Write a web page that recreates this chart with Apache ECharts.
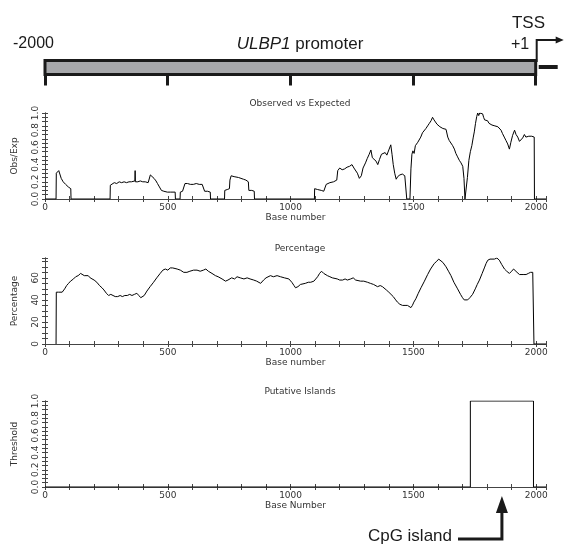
<!DOCTYPE html>
<html>
<head>
<meta charset="utf-8">
<title>ULBP1 promoter CpG</title>
<script src="https://cdn.jsdelivr.net/npm/echarts@6.0.0/dist/echarts.min.js"></script>
<style>
  html, body { margin: 0; padding: 0; background: #fff; }
  #chart { width: 568px; height: 548px; }
</style>
</head>
<body>
<div id="chart"></div>
<script>
// promoter diagram (base positions, -2000 .. +1)
const promoter = [[0, 2000]]
const xTicks = [0, 500, 1000, 1500, 2000]

// Observed vs Expected CpG ratio  [base, obs/exp]
const obsExp = [
  [0, 0], [45, 0], [46, 0.30], [50, 0.32], [56, 0.33], [62, 0.32], [66, 0.24], [74, 0.2], [84, 0.17], [95, 0.14], [105, 0.12], [106, 0],
  [265, 0], [266, 0.16], [272, 0.18], [282, 0.19], [292, 0.18], [302, 0.2], [312, 0.19], [322, 0.2], [332, 0.19], [342, 0.2],
  [352, 0.2], [360, 0.19], [366, 0.21], [367, 0.33], [368, 0.2], [378, 0.2], [388, 0.21], [398, 0.2], [408, 0.2], [420, 0.19],
  [428, 0.2], [429, 0.28], [436, 0.26], [444, 0.24], [452, 0.21], [458, 0.18], [466, 0.14], [474, 0.1], [484, 0.09], [498, 0.08],
  [512, 0.08], [530, 0.08], [531, 0],
  [550, 0], [551, 0.08], [560, 0.09], [568, 0.09], [570, 0.18], [580, 0.18], [592, 0.17], [604, 0.17], [616, 0.18], [628, 0.17],
  [640, 0.17], [648, 0.16], [650, 0.09], [662, 0.09], [673, 0.08], [674, 0],
  [731, 0], [732, 0.1], [742, 0.11], [751, 0.12], [753, 0.22], [758, 0.27], [762, 0.28], [770, 0.26], [778, 0.26], [788, 0.25],
  [798, 0.24], [808, 0.23], [818, 0.22], [828, 0.2], [830, 0.1], [842, 0.1], [852, 0.09], [853, 0],
  [1097, 0], [1098, 0.12], [1110, 0.11], [1125, 0.1], [1135, 0.09], [1145, 0.17], [1160, 0.19], [1175, 0.2], [1188, 0.22],
  [1192, 0.33], [1200, 0.36], [1210, 0.34], [1220, 0.35], [1230, 0.37], [1240, 0.38], [1250, 0.4], [1258, 0.36], [1265, 0.34],
  [1272, 0.3], [1280, 0.24], [1288, 0.27], [1295, 0.36], [1305, 0.42], [1312, 0.47], [1320, 0.52], [1327, 0.57], [1333, 0.48],
  [1340, 0.46], [1348, 0.44], [1355, 0.4], [1362, 0.46], [1370, 0.52], [1378, 0.5], [1385, 0.54], [1392, 0.51], [1400, 0.57],
  [1408, 0.63], [1413, 0.52], [1418, 0.4], [1424, 0.3], [1430, 0.23], [1436, 0.26], [1445, 0.28], [1455, 0.29], [1465, 0.27],
  [1472, 0.28], [1473, 0],
  [1486, 0], [1490, 0.35], [1494, 0.52], [1498, 0.56], [1503, 0.53], [1508, 0.62], [1513, 0.6], [1518, 0.66], [1524, 0.68],
  [1530, 0.72], [1537, 0.77], [1544, 0.76], [1551, 0.82], [1558, 0.85], [1565, 0.88], [1572, 0.91], [1578, 0.95], [1584, 0.92],
  [1590, 0.9], [1596, 0.87], [1602, 0.89], [1608, 0.84], [1614, 0.86], [1620, 0.82], [1627, 0.84], [1633, 0.81], [1640, 0.72],
  [1646, 0.68], [1653, 0.66], [1660, 0.62], [1667, 0.58], [1673, 0.53], [1680, 0.49], [1687, 0.45], [1694, 0.42], [1701, 0.38],
  [1706, 0.24], [1710, 0],
  [1716, 0], [1720, 0.25], [1726, 0.45], [1732, 0.55], [1738, 0.62], [1744, 0.72], [1748, 0.78], [1753, 0.88], [1758, 0.96],
  [1762, 1.0], [1766, 0.97], [1770, 1.0], [1774, 0.98], [1778, 1.0], [1782, 0.99], [1786, 0.95], [1790, 0.92], [1796, 0.9],
  [1802, 0.91], [1808, 0.88], [1814, 0.89], [1820, 0.86], [1826, 0.88], [1832, 0.85], [1838, 0.86], [1844, 0.84], [1850, 0.82],
  [1857, 0.8], [1863, 0.76], [1870, 0.72], [1877, 0.68], [1884, 0.64], [1891, 0.58], [1897, 0.66], [1904, 0.74], [1912, 0.8],
  [1918, 0.75], [1925, 0.72], [1932, 0.67], [1939, 0.65], [1945, 0.71], [1952, 0.75], [1958, 0.72], [1964, 0.74], [1970, 0.73],
  [1976, 0.75], [1982, 0.73], [1988, 0.74], [1992, 0.72], [1993, 0], [2040, 0]
]

// GC percentage  [base, %]
const gcPercent = [
  [45, 0], [46, 47], [55, 47], [62, 46], [70, 47], [80, 50], [88, 53], [96, 55], [104, 57], [116, 59], [125, 61], [135, 62],
  [145, 64], [152, 64], [160, 62], [168, 61], [176, 62], [184, 60], [192, 59], [200, 58], [211, 56], [222, 53], [232, 51],
  [240, 49], [250, 46], [259, 44], [268, 45], [277, 44], [286, 43], [296, 43], [306, 44], [315, 43], [325, 44], [335, 44],
  [345, 45], [354, 44], [364, 45], [374, 46], [382, 44], [390, 42], [396, 41], [404, 44], [415, 48], [428, 52], [442, 56],
  [455, 60], [469, 64], [480, 67], [490, 68], [500, 67], [510, 69], [520, 69], [528, 70], [538, 68], [551, 67], [565, 65],
  [578, 65], [590, 66], [605, 67], [619, 67], [632, 66], [645, 67], [655, 68], [665, 66], [680, 64], [694, 62], [705, 61],
  [721, 59], [735, 57], [745, 58], [760, 60], [772, 59], [782, 61], [795, 60], [810, 59], [823, 60], [835, 59], [850, 58],
  [862, 57], [878, 55], [890, 58], [900, 60], [918, 62], [930, 61], [945, 62], [959, 61], [975, 60], [993, 59], [1005, 56],
  [1014, 53], [1020, 51], [1030, 52], [1040, 54], [1047, 55], [1060, 55], [1072, 56], [1082, 56], [1095, 57], [1102, 58],
  [1110, 61], [1118, 64], [1126, 66], [1135, 64], [1143, 63], [1150, 62], [1160, 61], [1170, 60], [1177, 60], [1190, 59],
  [1200, 58], [1212, 58], [1222, 59], [1231, 58], [1245, 59], [1255, 60], [1265, 58], [1272, 59], [1285, 57], [1298, 57],
  [1313, 56], [1325, 55], [1338, 54], [1346, 53], [1354, 52], [1365, 53], [1374, 52], [1381, 51], [1390, 49], [1400, 47],
  [1408, 46], [1418, 43], [1428, 40], [1435, 38], [1445, 36], [1456, 35], [1466, 35], [1476, 35], [1484, 34], [1490, 33],
  [1496, 35], [1502, 38], [1510, 41], [1520, 46], [1531, 51], [1545, 57], [1558, 63], [1570, 68], [1585, 73], [1595, 75],
  [1603, 77], [1610, 76], [1620, 74], [1633, 70], [1643, 66], [1653, 62], [1665, 56], [1680, 50], [1692, 45], [1700, 42],
  [1707, 40], [1714, 39], [1721, 40], [1730, 42], [1741, 45], [1752, 50], [1760, 54], [1769, 58], [1780, 64], [1789, 69],
  [1796, 73], [1803, 76], [1812, 77], [1820, 78], [1830, 77], [1840, 78], [1850, 76], [1860, 72], [1871, 68], [1880, 66],
  [1891, 64], [1900, 66], [1908, 68], [1914, 68], [1922, 65], [1932, 63], [1940, 62], [1950, 63], [1959, 63], [1968, 64],
  [1977, 65], [1986, 65], [1990, 64], [1991, 0], [2040, 0]
]

// putative island threshold
const islandStep = [[0, 0], [1732, 0], [1732, 1], [1989, 1], [1989, 0], [2040, 0]]
const islandMid = (1732 + 1989) / 2

const FONT = 'DejaVu Sans'
const ANNO = 'Liberation Sans'
const AXIS_COLOR = '#444'
const LEFT = 45, RIGHT = 22, H = 86
const tops = [113, 258, 401]

const chart = echarts.init(document.getElementById('chart'))

function xAxes(i, name) {
  const common = {
    type: 'value', gridIndex: i, min: 0, max: 2040, interval: 100,
    axisLine: { show: true, lineStyle: { color: AXIS_COLOR, width: 1 } },
    axisTick: { show: true, inside: true, length: 3, lineStyle: { color: AXIS_COLOR } },
    splitLine: { show: false }
  }
  return [
    Object.assign({}, common, {
      position: 'bottom', name: name, nameLocation: 'middle', nameGap: 14,
      nameTextStyle: { fontFamily: FONT, fontSize: 9, color: '#333' },
      axisLabel: {
        fontFamily: FONT, fontSize: 9, color: '#333', margin: 4,
        formatter: v => (v % 500 === 0 && v <= 2000) ? String(v) : ''
      }
    }),
    Object.assign({}, common, { position: 'top', axisLabel: { show: false } })
  ]
}

function yAxes(i, name, max, interval, labelStep, digits) {
  const common = {
    type: 'value', gridIndex: i, min: 0, max: max, interval: interval,
    axisLine: { show: true, lineStyle: { color: AXIS_COLOR, width: 1 } },
    axisTick: { show: true, inside: true, length: 3, lineStyle: { color: AXIS_COLOR } },
    splitLine: { show: false }
  }
  return [
    Object.assign({}, common, {
      position: 'left', name: name, nameLocation: 'middle', nameGap: 26, nameRotate: 90,
      nameTextStyle: { fontFamily: FONT, fontSize: 9, color: '#333' },
      axisLabel: {
        fontFamily: FONT, fontSize: 9, color: '#333', rotate: 90, margin: 5,
        formatter: v => {
          const k = Math.round(v * 100), s = Math.round(labelStep * 100)
          return k % s === 0 ? v.toFixed(digits) : ''
        }
      }
    }),
    Object.assign({}, common, { position: 'right', axisLabel: { show: false } })
  ]
}

const titles = ['Observed vs Expected', 'Percentage', 'Putative Islands'].map((t, i) => ({
  text: t, left: 295, top: tops[i] - 19, textAlign: 'center',
  textStyle: { fontFamily: FONT, fontSize: 9, fontWeight: 'normal', color: '#333' }
}))

const lineStyle = { color: '#000', width: 1 }

chart.setOption({
  animation: false,
  title: titles,
  grid: tops.map(t => ({ left: LEFT, right: RIGHT, top: t, height: H, outerBoundsMode: 'none' }))
    .concat([{ left: LEFT, right: 32.3, top: 60.5, height: 14, outerBoundsMode: 'none' }]),
  xAxis: [].concat(
    xAxes(0, 'Base number'), xAxes(1, 'Base number'), xAxes(2, 'Base Number'),
    [{
      type: 'value', gridIndex: 3, min: 0, max: 2000, interval: 500, position: 'bottom',
      axisLine: { show: false }, axisLabel: { show: false }, splitLine: { show: false },
      axisTick: { show: true, length: 11, lineStyle: { color: '#1a1a1a', width: 3 } }
    }]
  ),
  yAxis: [].concat(
    yAxes(0, 'Obs/Exp', 1, 0.05, 0.2, 1), yAxes(1, 'Percentage', 78, 5, 20, 0), yAxes(2, 'Threshold', 1, 0.05, 0.2, 1),
    [{ type: 'value', gridIndex: 3, min: 0, max: 1, show: false }]
  ),
  series: [
    { type: 'line', xAxisIndex: 0, yAxisIndex: 0, data: obsExp, showSymbol: false, lineStyle: lineStyle, clip: true },
    { type: 'line', xAxisIndex: 2, yAxisIndex: 2, data: gcPercent, showSymbol: false, lineStyle: lineStyle, clip: true },
    { type: 'line', xAxisIndex: 4, yAxisIndex: 4, data: islandStep, showSymbol: false, lineStyle: lineStyle, clip: true },
    {
      type: 'custom', xAxisIndex: 6, yAxisIndex: 6, data: promoter, encode: { x: [0, 1] },
      renderItem: (params, api) => {
        const p0 = api.coord([api.value(0), 1])
        const p1 = api.coord([api.value(1), 0])
        return {
          type: 'rect', z2: 0,
          shape: { x: p0[0], y: p0[1], width: p1[0] - p0[0], height: p1[1] - p0[1] },
          style: { fill: '#a7a8ab', stroke: '#1a1a1a', lineWidth: 3 }
        }
      }
    }
  ]
})

// annotations placed from the axes
const tssX = chart.convertToPixel({ xAxisIndex: 6 }, promoter[0][1])
const cpgX = chart.convertToPixel({ xAxisIndex: 4 }, islandMid)
const ink = '#1a1a1a'

chart.setOption({
  graphic: [
    { type: 'text', x: 13, y: 44, style: { text: '-2000', font: '16px "Liberation Sans"', fill: ink, verticalAlign: 'middle' } },
    {
      type: 'text', x: 300, y: 44,
      style: {
        text: '{i|ULBP1} promoter', font: '17px "Liberation Sans"', fill: ink, align: 'center', verticalAlign: 'middle',
        rich: { i: { fontStyle: 'italic', fontSize: 17, fontFamily: ANNO, fill: ink } }
      }
    },
    { type: 'text', x: 528.5, y: 23.5, style: { text: 'TSS', font: '17px "Liberation Sans"', fill: ink, align: 'center', verticalAlign: 'middle' } },
    { type: 'text', x: 520, y: 45, style: { text: '+1', font: '16px "Liberation Sans"', fill: ink, align: 'center', verticalAlign: 'middle' } },
    { type: 'polyline', shape: { points: [[tssX + 1, 62], [tssX + 1, 40], [tssX + 22, 40]] }, style: { stroke: ink, lineWidth: 2, fill: null } },
    { type: 'polygon', shape: { points: [[tssX + 20, 36.5], [tssX + 28, 40], [tssX + 20, 43.5]] }, style: { fill: ink } },
    { type: 'rect', shape: { x: tssX + 3, y: 65, width: 19, height: 4 }, style: { fill: ink } },
    { type: 'polygon', shape: { points: [[cpgX, 496], [cpgX - 6, 513], [cpgX + 6, 513]] }, style: { fill: ink } },
    { type: 'polyline', shape: { points: [[cpgX, 511], [cpgX, 539], [458, 539]] }, style: { stroke: ink, lineWidth: 3, fill: null } },
    { type: 'text', x: 452, y: 536, style: { text: 'CpG island', font: '17px "Liberation Sans"', fill: ink, align: 'right', verticalAlign: 'middle' } }
  ]
})
</script>
</body>
</html>
